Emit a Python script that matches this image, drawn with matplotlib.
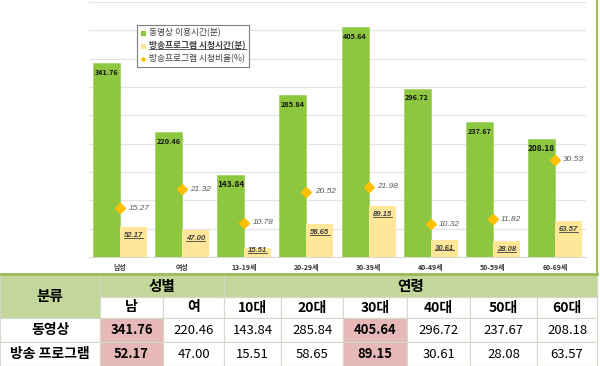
import matplotlib
matplotlib.use("Agg")
import matplotlib.pyplot as plt
from matplotlib.lines import Line2D
from matplotlib.patches import Rectangle
import numpy as np

plt.rcParams['font.family'] = ['Noto Sans CJK KR', 'DejaVu Sans']

# ---------------- data ----------------
categories = ['남성', '여성', '13-19세', '20-29세', '30-39세', '40-49세', '50-59세', '60-69세']
video_minutes = [341.76, 220.46, 143.84, 285.84, 405.64, 296.72, 237.67, 208.18]
broadcast_minutes = [52.17, 47.00, 15.51, 58.65, 89.15, 30.61, 28.08, 63.57]
broadcast_ratio = [15.27, 21.32, 10.78, 20.52, 21.98, 10.32, 11.82, 30.53]
legend_labels = ['동영상 이용시간(분)', '방송프로그램 시청시간(분)', '방송프로그램 시청비율(%)']

table_corner = '분류'
table_groups = ['성별', '연령']
table_group_sizes = [2, 6]
table_columns = ['남', '여', '10대', '20대', '30대', '40대', '50대', '60대']
table_rows = ['동영상', '방송 프로그램']
highlight_columns = [0, 4]

# ---------------- style ----------------
GREEN = '#8DC63F'
GREEN_EDGE = '#A6D46A'
YELLOW = '#FFE699'
DIAMOND = '#FFC000'
HEADER_GREEN = '#C4D79B'
PINK = '#E6B9B8'
LINE_GREEN = '#9BBB59'
NUM_FONT = ['Liberation Sans', 'DejaVu Sans']

W, H = 600, 366
fig = plt.figure(figsize=(W / 100, H / 100), dpi=100)

# overlay axes in pixel coordinates for the table and frame lines
tax = fig.add_axes([0, 0, 1, 1], zorder=0)
tax.set_xlim(0, W)
tax.set_ylim(H, 0)
tax.axis('off')

# chart axes
x0, x1, ytop, ybase = 89, 586, 2, 257
ax = fig.add_axes([x0 / W, (H - ybase) / H, (x1 - x0) / W, (ybase - ytop) / H], zorder=2)
ax.set_facecolor('none')
ax2 = ax.twinx()
ax2.set_zorder(3)
ax2.set_facecolor('none')

x = np.arange(len(categories))
bw = 0.435
off = 0.218
ax.bar(x - off, video_minutes, bw, color=GREEN, edgecolor=GREEN_EDGE, linewidth=0.6, zorder=3)
ax.bar(x + off, broadcast_minutes, bw, color=YELLOW, edgecolor='none', zorder=3)
ax.set_xlim(-0.5, len(categories) - 0.5)
ax.set_ylim(0, 450)
ax.set_yticks(np.arange(0, 451, 50))
ax.yaxis.grid(True, color='#E4E4E4', linewidth=0.9)
ax.set_axisbelow(True)
ax.tick_params(axis='y', left=False, labelleft=False)
for s in ['left', 'right', 'top']:
    ax.spines[s].set_visible(False)
ax.spines['bottom'].set_color('#D9D9D9')
ax.set_xticks(x)
ax.set_xticklabels(categories, fontsize=5, color='#333333', fontweight='bold')
ax.tick_params(axis='x', length=0, pad=5)

ax2.set_ylim(0, 80)
ax2.axis('off')
ax2.plot(x, broadcast_ratio, linestyle='none', marker='D', markersize=4.6,
         color=DIAMOND, markeredgecolor=DIAMOND, zorder=5)

px_per_unit = (ybase - ytop) / 450.0
underline_texts = []
for xi, v in zip(x, video_minutes):
    big = v in (143.84, 208.18)
    ax.text(xi - off, v - 9 / px_per_unit, f'{v:.2f}', ha='center', va='center',
            fontsize=6 if big else 5.2, fontweight='bold', color='#111111', zorder=6)
for xi, v in zip(x, broadcast_minutes):
    yc = max(v - 8.5 / px_per_unit, 6 / px_per_unit)
    t = ax.text(xi + off, yc, f'{v:.2f}', ha='center', va='center', fontsize=5.6,
                fontweight='bold', fontstyle='italic', color='#404040', zorder=6,
                family=NUM_FONT)
    underline_texts.append(t)
for xi, v in zip(x, broadcast_ratio):
    ax2.annotate(f'{v:.2f}', (xi, v), xytext=(6, 0), textcoords='offset points',
                 ha='left', va='center', fontsize=6, fontstyle='italic', color='#595959',
                 family=NUM_FONT)

handles = [
    Line2D([], [], linestyle='none', marker='s', markersize=2.6, color=GREEN),
    Line2D([], [], linestyle='none', marker='s', markersize=2.6, color=YELLOW),
    Line2D([], [], linestyle='none', marker='D', markersize=2.0, color=DIAMOND),
]
leg = ax.legend(handles, legend_labels, loc='upper left',
                bbox_to_anchor=((137 - x0) / (x1 - x0), (ybase - 25) / (ybase - ytop)),
                fontsize=6.3, frameon=True, fancybox=False, handlelength=0.6,
                handletextpad=0.4, labelspacing=0.45, borderpad=0.4,
                borderaxespad=0, edgecolor='#7F7F7F', framealpha=1)
leg.get_frame().set_linewidth(0.8)
lt = leg.get_texts()
for t in lt:
    t.set_color('#404040')
lt[1].set_fontstyle('italic')
lt[1].set_fontweight('bold')
lt[2].set_fontstyle('italic')
underline_texts.append(lt[1])

# ---------------- frame lines ----------------
tax.plot([597, 597], [0, 274], color=LINE_GREEN, linewidth=1.4, zorder=1)

# ---------------- table ----------------
col_edges = [0, 100, 163, 224, 281, 343, 407, 470, 537, 597]
row_edges = [274, 297, 318, 342, 366]
grid_c = '#D3D9C8'

def cell(xa, xb, ya, yb, fc):
    tax.add_patch(Rectangle((xa, ya), xb - xa, yb - ya, facecolor=fc,
                            edgecolor=grid_c, linewidth=0.8, zorder=1))

# corner
cell(col_edges[0], col_edges[1], row_edges[0], row_edges[2], HEADER_GREEN)
tax.text((col_edges[0] + col_edges[1]) / 2, (row_edges[0] + row_edges[2]) / 2, table_corner,
         ha='center', va='center', fontsize=10.5, fontweight='bold', zorder=2)
# group headers
ci = 1
for g, n in zip(table_groups, table_group_sizes):
    xa, xb = col_edges[ci], col_edges[ci + n]
    cell(xa, xb, row_edges[0], row_edges[1], HEADER_GREEN)
    tax.text((xa + xb) / 2, (row_edges[0] + row_edges[1]) / 2, g, ha='center', va='center',
             fontsize=10.5, fontweight='bold', zorder=2)
    ci += n
# column headers
for j, c in enumerate(table_columns):
    xa, xb = col_edges[j + 1], col_edges[j + 2]
    cell(xa, xb, row_edges[1], row_edges[2], 'white')
    tax.text((xa + xb) / 2, (row_edges[1] + row_edges[2]) / 2, c, ha='center', va='center',
             fontsize=10, fontweight='bold', zorder=2)
# data rows
for i, (rname, vals) in enumerate(zip(table_rows, [video_minutes, broadcast_minutes])):
    ya, yb = row_edges[i + 2], row_edges[i + 3]
    cell(col_edges[0], col_edges[1], ya, yb, 'white')
    tax.text((col_edges[0] + col_edges[1]) / 2, (ya + yb) / 2, rname, ha='center', va='center',
             fontsize=10, fontweight='bold', zorder=2)
    for j, v in enumerate(vals):
        xa, xb = col_edges[j + 1], col_edges[j + 2]
        hl = j in highlight_columns
        cell(xa, xb, ya, yb, PINK if hl else 'white')
        tax.text((xa + xb) / 2, (ya + yb) / 2, f'{v:.2f}', ha='center', va='center',
                 fontsize=9.4, fontweight='bold' if hl else 'normal', zorder=2)

tax.plot([0, 597], [274, 274], color=LINE_GREEN, linewidth=2.0, zorder=3)

# ---------------- underlines ----------------
fig.canvas.draw()
renderer = fig.canvas.get_renderer()
inv = fig.transFigure.inverted()
for t in underline_texts:
    bb = t.get_window_extent(renderer)
    (fx0, fy0), (fx1, _) = inv.transform([(bb.x0, bb.y0 + 1.2), (bb.x1, bb.y0 + 1.2)])
    fig.add_artist(Line2D([fx0, fx1], [fy0, fy0], transform=fig.transFigure,
                          color=t.get_color(), linewidth=0.6, zorder=10))

fig.savefig('out.png', dpi=100)
